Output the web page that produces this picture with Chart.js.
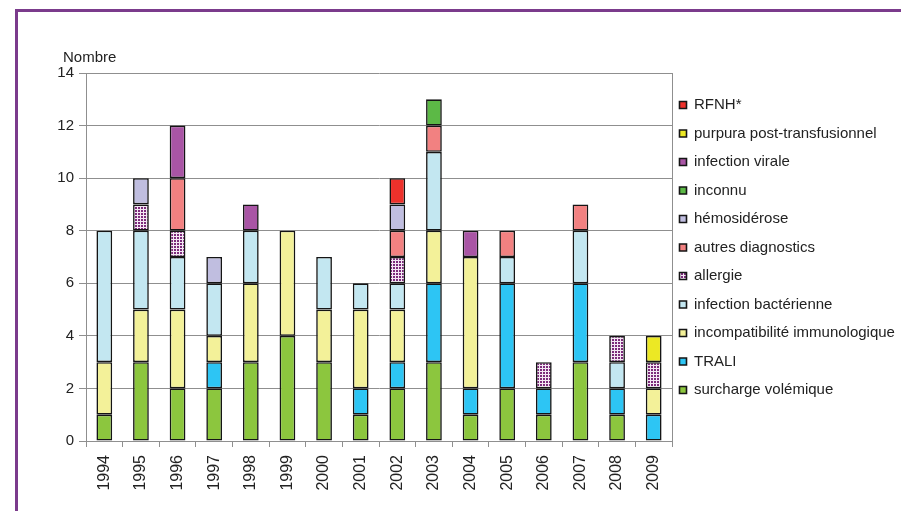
<!DOCTYPE html>
<html>
<head>
<meta charset="utf-8">
<script src="https://cdn.jsdelivr.net/npm/chart.js@4"></script>
<style>
    body { margin: 0; background: #fff; }
    #frame {
        position: absolute; left: 15px; top: 9px; width: 900px; height: 520px;
        border-left: 3px solid #7b3b8c; border-top: 3px solid #7b3b8c;
    }
    #wrap { position: absolute; left: 0; top: 0; width: 901px; height: 511px; }
</style>
</head>
<body>
<div id="frame"></div>
<div id="wrap"><canvas id="myCanvas" width="901" height="511"></canvas></div>
<script>
const years = ['1994', '1995', '1996', '1997', '1998', '1999', '2000', '2001',
    '2002', '2003', '2004', '2005', '2006', '2007', '2008', '2009'];
const yTicks = [0, 2, 4, 6, 8, 10, 12, 14];

// bottom to top of each stack
const surcharge = [1, 3, 2, 2, 3, 4, 3, 1, 2, 3, 1, 2, 1, 3, 1, 0];
const trali     = [0, 0, 0, 1, 0, 0, 0, 1, 1, 3, 1, 4, 1, 3, 1, 1];
const incompat  = [2, 2, 3, 1, 3, 4, 2, 3, 2, 2, 5, 0, 0, 0, 0, 1];
const bact      = [5, 3, 2, 2, 2, 0, 2, 1, 1, 3, 0, 1, 0, 2, 1, 0];
const allergie  = [0, 1, 1, 0, 0, 0, 0, 0, 1, 0, 0, 0, 1, 0, 1, 1];
const autres    = [0, 0, 2, 0, 0, 0, 0, 0, 1, 1, 0, 1, 0, 1, 0, 0];
const hemosid   = [0, 1, 0, 1, 0, 0, 0, 0, 1, 0, 0, 0, 0, 0, 0, 0];
const inconnu   = [0, 0, 0, 0, 0, 0, 0, 0, 0, 1, 0, 0, 0, 0, 0, 0];
const virale    = [0, 0, 2, 0, 1, 0, 0, 0, 0, 0, 1, 0, 0, 0, 0, 0];
const purpura   = [0, 0, 0, 0, 0, 0, 0, 0, 0, 0, 0, 0, 0, 0, 0, 1];
const rfnh      = [0, 0, 0, 0, 0, 0, 0, 0, 1, 0, 0, 0, 0, 0, 0, 0];

// purple checked fill for "allergie"
function makePattern() {
    const c = document.createElement('canvas');
    c.width = 3;
    c.height = 3;
    const p = c.getContext('2d');
    p.fillStyle = '#7c2b7b';
    p.fillRect(0, 0, 3, 3);
    p.fillStyle = '#f4e8f4';
    p.fillRect(2, 0, 1, 3);
    p.fillRect(0, 2, 3, 1);
    return document.getElementById('myCanvas').getContext('2d').createPattern(c, 'repeat');
}

const series = [
    ['surcharge volémique', surcharge, '#8cc63e'],
    ['TRALI', trali, '#2dc5f4'],
    ['incompatibilité immunologique', incompat, '#f3f199'],
    ['infection bactérienne', bact, '#c3e7f1'],
    ['allergie', allergie, makePattern()],
    ['autres diagnostics', autres, '#f28181'],
    ['hémosidérose', hemosid, '#c0bee0'],
    ['inconnu', inconnu, '#5cb946'],
    ['infection virale', virale, '#a955a5'],
    ['purpura post-transfusionnel', purpura, '#ece824'],
    ['RFNH*', rfnh, '#ee312b']
];

const datasets = series.map(s => ({
    label: s[0],
    data: s[1].map(v => v || null),
    backgroundColor: s[2],
    borderColor: '#151515',
    borderWidth: 1.6,
    borderSkipped: false,
    inflateAmount: 0,
    categoryPercentage: 1,
    barPercentage: 0.43
}));

const FONT = 'Liberation Sans, Arial, sans-serif';
const GRID = '#8f8f8f';

const extras = {
    id: 'extras',
    afterLayout(chart) {
        // nudge legend a bit closer to the plot
        chart.legend.left -= 6;
        chart.legend.right -= 6;
    },
    afterDraw(chart) {
        const { ctx, chartArea } = chart;
        ctx.save();
        ctx.strokeStyle = GRID;
        ctx.lineWidth = 1;
        ctx.beginPath();
        ctx.moveTo(Math.round(chartArea.right) + 0.5, chartArea.top);
        ctx.lineTo(Math.round(chartArea.right) + 0.5, chartArea.bottom);
        ctx.stroke();
        ctx.fillStyle = '#222';
        ctx.font = '15px ' + FONT;
        ctx.textBaseline = 'alphabetic';
        ctx.fillText('Nombre', 63, 62);
        ctx.restore();
    }
};

const ctx = document.getElementById('myCanvas').getContext('2d');
const myChart = new Chart(ctx, {
    type: 'bar',
    data: { labels: years, datasets: datasets },
    plugins: [extras],
    options: {
        responsive: false,
        animation: false,
        layout: { padding: { left: 40, top: 73, right: 0, bottom: 0 } },
        plugins: {
            tooltip: { enabled: false },
            legend: {
                position: 'right',
                align: 'start',
                reverse: true,
                maxWidth: 229,
                title: { display: true, text: '', font: { size: 10, lineHeight: 1 }, padding: { top: 1, bottom: 0 } },
                labels: {
                    boxWidth: 7,
                    boxHeight: 7,
                    padding: 13.5,
                    color: '#222',
                    font: { family: FONT, size: 15 }
                }
            }
        },
        scales: {
            x: {
                stacked: true,
                afterFit: scale => { scale.height = 70; },
                grid: { drawOnChartArea: false, tickLength: 6, color: GRID, offset: true },
                border: { color: GRID },
                ticks: {
                    autoSkip: false, minRotation: 90, maxRotation: 90, padding: 8,
                    color: '#222', font: { family: FONT, size: 16 }
                }
            },
            y: {
                stacked: true,
                min: 0,
                max: 14,
                afterFit: scale => { scale.width = 46; },
                afterBuildTicks: scale => { scale.ticks = yTicks.map(v => ({ value: v })); },
                grid: { tickLength: 7, color: GRID },
                border: { color: GRID },
                ticks: { padding: 5, color: '#222', font: { family: FONT, size: 15 } }
            }
        }
    }
});
</script>
</body>
</html>
